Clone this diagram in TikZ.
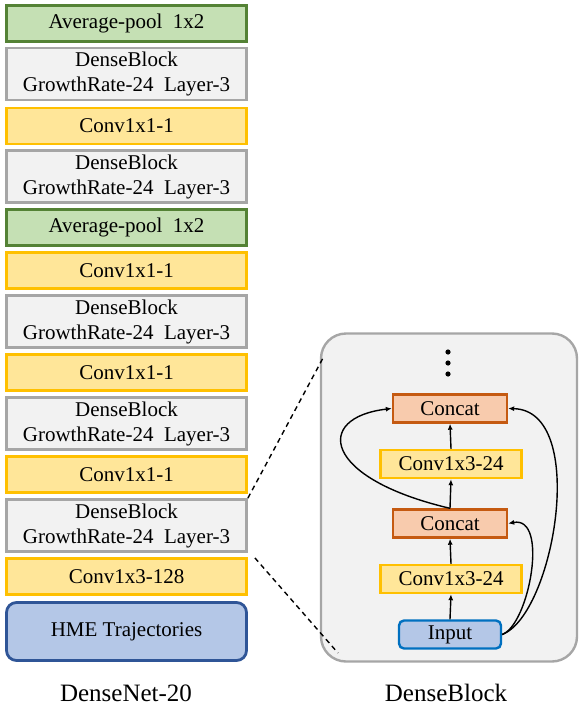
\documentclass[tikz,border=0pt]{standalone}
\usepackage{fontspec}
\setmainfont{Liberation Serif}
\usetikzlibrary{arrows.meta}

\definecolor{poolfill}{HTML}{C5E0B4}
\definecolor{pooldraw}{HTML}{548235}
\definecolor{blockfill}{HTML}{F2F2F2}
\definecolor{blockdraw}{HTML}{A6A6A6}
\definecolor{convfill}{HTML}{FFE699}
\definecolor{convdraw}{HTML}{FFC000}
\definecolor{catfill}{HTML}{F8CBAD}
\definecolor{catdraw}{HTML}{C55A11}
\definecolor{infill}{HTML}{B4C7E7}
\definecolor{hmedraw}{HTML}{2F5597}
\definecolor{indraw}{HTML}{0070C0}

\tikzstyle{layer} = [rectangle, line width=2.8pt, minimum width=240pt,
  inner sep=2pt, align=center, font=\fontsize{21}{25}\selectfont]
\tikzstyle{pool} = [layer, draw=pooldraw, fill=poolfill, minimum height=36pt]
\tikzstyle{dense} = [layer, draw=blockdraw, fill=blockfill, minimum height=52pt]
\tikzstyle{conv} = [layer, draw=convdraw, fill=convfill, minimum height=36pt]
\tikzstyle{hme} = [layer, draw=hmedraw, fill=infill, rounded corners=10pt,
  minimum height=58pt]
\tikzstyle{inner} = [rectangle, line width=2.4pt, minimum height=28pt,
  inner sep=2pt, font=\fontsize{21}{25}\selectfont]
\tikzstyle{iconv} = [inner, draw=convdraw, fill=convfill, minimum width=141pt]
\tikzstyle{icat} = [inner, draw=catdraw, fill=catfill, minimum width=114pt]
\tikzstyle{iinput} = [inner, draw=indraw, fill=infill, rounded corners=5pt,
  minimum width=102pt]
\tikzstyle{panel} = [rectangle, draw=blockdraw, fill=blockfill, line width=2.4pt,
  rounded corners=25pt, minimum width=256pt, minimum height=328pt]
\tikzstyle{caption} = [font=\fontsize{25}{30}\selectfont]
\tikzstyle{flow} = [-{Latex[length=6pt,width=5pt]}, line width=1.4pt]

\begin{document}
\begin{tikzpicture}[x=1pt,y=1pt]
        \useasboundingbox (0,0) rectangle (582,-707);

        % DenseNet-20
        \node [pool]  (pool2)  at (126.5, -23.5) {Average-pool\ \ 1x2};
        \node [dense] (dense4) at (126.5, -74)   {DenseBlock\\GrowthRate-24\ \ Layer-3};
        \node [conv]  (trans3) at (126.5,-126)   {Conv1x1-1};
        \node [dense] (dense3) at (126.5,-176.5) {DenseBlock\\GrowthRate-24\ \ Layer-3};
        \node [pool]  (pool1)  at (126.5,-227.5) {Average-pool\ \ 1x2};
        \node [conv]  (trans2) at (126.5,-270.5) {Conv1x1-1};
        \node [dense] (dense2) at (126.5,-321.5) {DenseBlock\\GrowthRate-24\ \ Layer-3};
        \node [conv]  (trans1) at (126.5,-372.5) {Conv1x1-1};
        \node [dense] (dense1) at (126.5,-423.5) {DenseBlock\\GrowthRate-24\ \ Layer-3};
        \node [conv]  (trans0) at (126.5,-474.5) {Conv1x1-1};
        \node [dense] (dense0) at (126.5,-525.5) {DenseBlock\\GrowthRate-24\ \ Layer-3};
        \node [conv]  (stem)   at (126.5,-576.5) {Conv1x3-128};
        \node [hme]   (hme)    at (126.5,-631.5) {HME Trajectories};
        \node [caption] (netname) at (126,-693) {DenseNet-20};

        % DenseBlock detail
        \node [panel]  (panel)   at (449,-497.5) {};
        \node [iinput] (input)   at (450,-634.5) {Input};
        \node [iconv]  (convA)   at (451,-579)   {Conv1x3-24};
        \node [icat]   (concatA) at (450,-523.5) {Concat};
        \node [iconv]  (convB)   at (451,-464)   {Conv1x3-24};
        \node [icat]   (concatB) at (450,-408.5) {Concat};
        \node [caption] (blockname) at (446,-693) {DenseBlock};

        \foreach \y in {352,363,374}
          \fill (448,-\y) circle (2.6pt);

        \draw[flow] (input.north)   -- (convA.south);
        \draw[flow] (convA.north)   -- (concatA.south);
        \draw[flow] (concatA.north) -- (convB.south);
        \draw[flow] (convB.north)   -- (concatB.south);
        \draw[flow] (concatA.north) .. controls +(-128,30) and +(-78,-9) .. (concatB.west);
        \draw[flow] (input.east) .. controls +(27,10) and +(41,8) .. (concatA.east);
        \draw[flow] (input.east) .. controls +(52,20) and +(81,-2) .. (concatB.east);

        % zoom lines
        \coordinate (zoomtop) at (323,-358);
        \coordinate (zoombot) at (338,-653);
        \coordinate (densebot) at ([shift={(7,-5)}]dense0.south east);
        \draw[dashed, line width=1.4pt, dash pattern=on 5pt off 4pt] (dense0.north east) -- (zoomtop);
        \draw[dashed, line width=1.4pt, dash pattern=on 5pt off 4pt] (densebot) -- (zoombot);
      \end{tikzpicture}
\end{document}
